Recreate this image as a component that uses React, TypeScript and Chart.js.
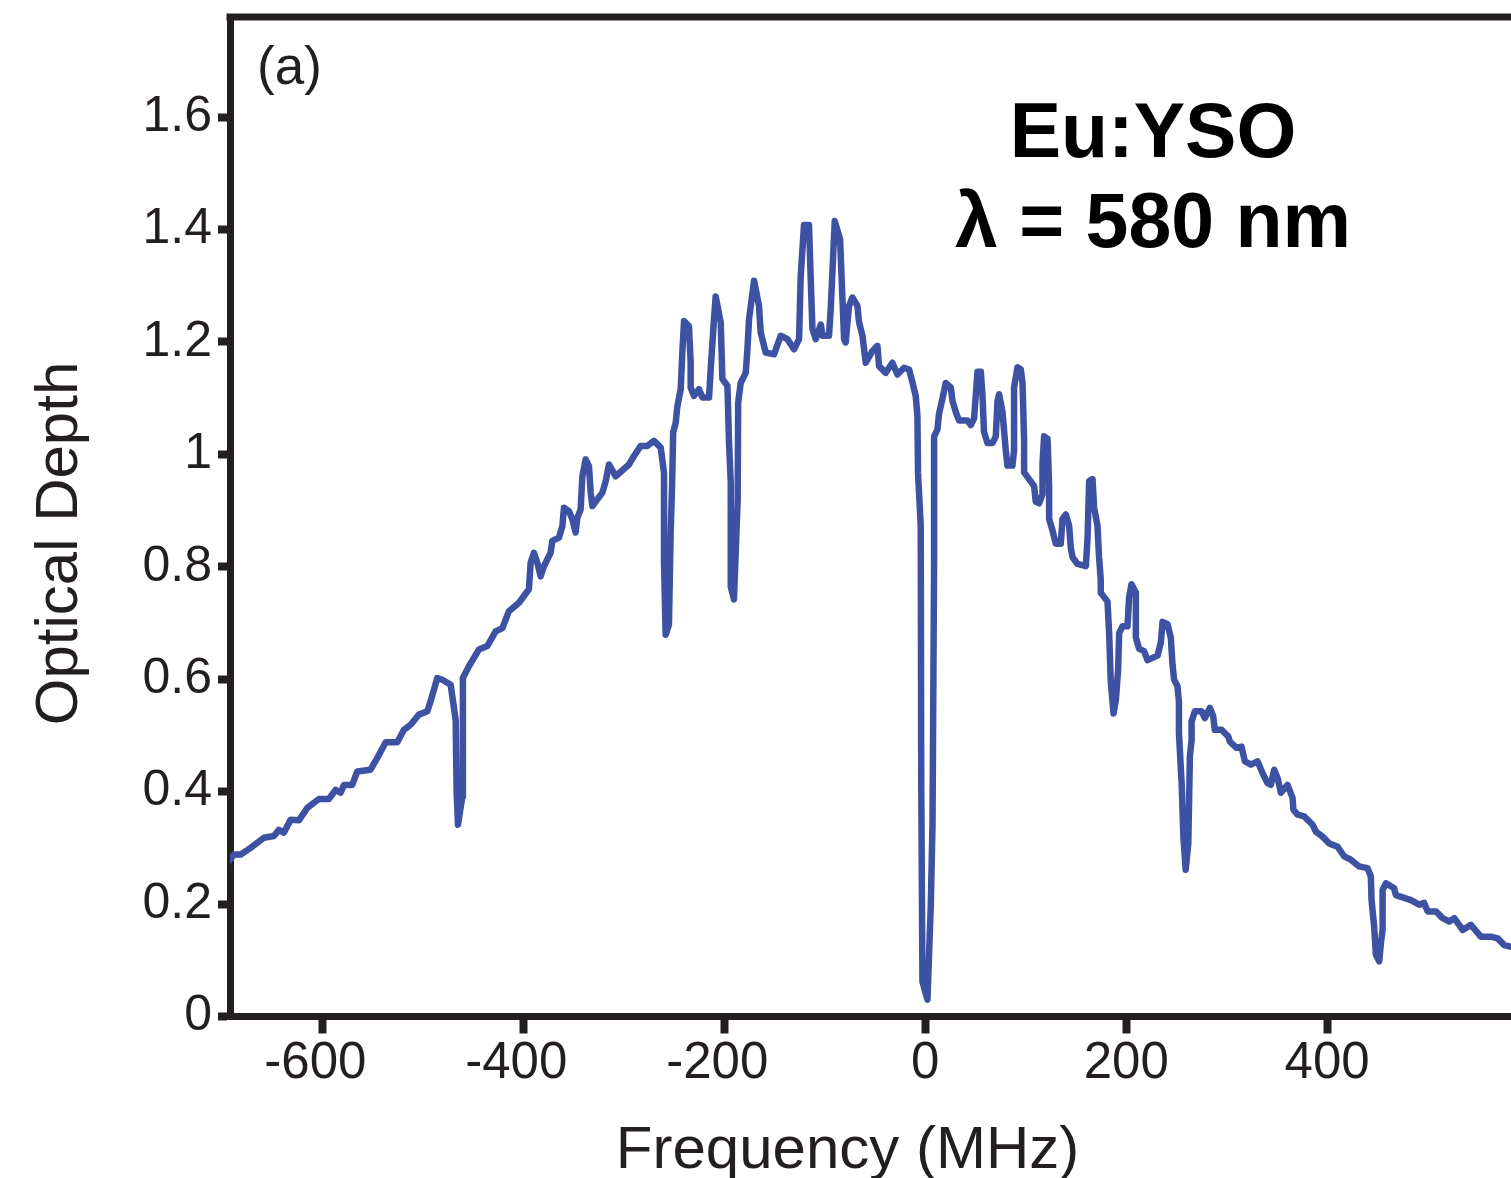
import React, { useEffect, useRef } from 'react';
import { Chart, registerables } from 'chart.js';

Chart.register(...registerables);

// ---- data ----
const freqMHz = [
  -695, -688.2, -681.5, -671.5, -658.3, -648.3, -643.4, -638.4, -631.7, -623.4,
  -615.1, -603.5, -593.6, -586.9, -581.9, -578.6, -570.3, -565.3, -552.1, -545.4,
  -537.1, -525.5, -518.9, -512.2, -504.0, -495.6, -492.3, -485.7, -480.7, -472.4,
  -467.4, -466.4, -465.1, -460.8, -460.2, -460.2, -454.2, -444.2, -435.9, -427.6,
  -420.9, -414.4, -404.4, -394.5, -392.8, -389.5, -386.1, -382.8, -379.5, -372.9,
  -371.2, -364.6, -361.2, -359.6, -354.6, -351.2, -348.0, -346.3, -343.0, -341.3,
  -338.0, -334.7, -333.0, -331.3, -326.4, -321.4, -318.1, -314.8, -308.1, -294.9,
  -289.9, -283.2, -276.6, -270.0, -263.3, -260.0, -260.0, -258.4, -255.1, -253.4,
  -251.9, -250.9, -248.4, -246.7, -243.4, -241.7, -240.1, -235.2, -233.5, -233.5,
  -230.2, -225.2, -221.8, -215.2, -213.6, -210.3, -208.6, -203.6, -201.9, -196.9,
  -195.3, -193.6, -193.6, -190.4, -186.7, -186.2, -183.7, -178.7, -177.0, -175.4,
  -170.4, -165.5, -163.8, -158.8, -150.5, -143.9, -137.2, -130.6, -125.6, -124.0,
  -120.7, -115.7, -114.0, -112.3, -109.0, -104.0, -102.3, -95.8, -94.1, -90.1,
  -84.8, -82.4, -80.8, -79.2, -75.9, -72.5, -67.5, -65.9, -62.5, -60.9,
  -59.2, -52.6, -47.6, -46.0, -39.3, -32.7, -27.7, -21.1, -16.1, -12.7,
  -9.5, -7.8, -7.2, -4.5, -4.0, -2.8, 2.2, 5.5, 7.2, 8.8,
  8.8, 12.1, 13.7, 17.1, 20.4, 25.4, 27.1, 30.4, 33.7, 42.0,
  45.3, 48.6, 52.0, 55.3, 56.9, 58.5, 61.9, 66.9, 70.2, 71.9,
  73.5, 76.9, 80.1, 81.8, 86.8, 88.4, 88.4, 91.8, 95.1, 96.8,
  98.4, 98.4, 103.3, 108.3, 110.0, 113.3, 116.7, 116.7, 118.3, 121.7,
  123.3, 123.3, 126.6, 129.9, 134.9, 136.6, 139.9, 143.2, 144.9, 146.6,
  151.5, 159.8, 161.5, 163.1, 166.5, 168.1, 171.4, 173.0, 174.7, 174.7,
  181.4, 183.0, 184.7, 187.4, 189.7, 192.0, 193.0, 196.3, 201.3, 202.9,
  205.3, 209.6, 209.6, 212.9, 217.8, 221.2, 226.2, 231.2, 234.5, 236.2,
  241.1, 244.4, 246.1, 247.7, 251.0, 252.5, 252.5, 255.2, 256.9, 259.2,
  261.8, 263.4, 265.1, 265.1, 268.4, 275.0, 278.3, 283.3, 286.6, 288.2,
  294.9, 301.6, 303.2, 309.8, 314.8, 318.1, 324.1, 330.7, 335.7, 340.7,
  344.0, 347.3, 350.7, 354.0, 360.6, 365.6, 366.4, 370.6, 377.1, 385.5,
  388.8, 395.4, 402.0, 410.4, 416.9, 423.6, 431.9, 440.2, 443.5, 444.2,
  446.8, 448.5, 451.8, 453.5, 455.2, 455.2, 458.5, 466.7, 468.4, 476.7,
  483.4, 491.6, 496.6, 500.0, 508.3, 514.9, 521.5, 526.5, 531.4, 534.8,
  543.1, 553.0, 563.0, 569.7, 576.3, 583.0, 590.0,
];

const opticalDepth = [
  0.272, 0.288, 0.288, 0.300, 0.318, 0.321, 0.332, 0.327, 0.350, 0.349,
  0.371, 0.387, 0.387, 0.403, 0.398, 0.412, 0.412, 0.436, 0.439, 0.460,
  0.488, 0.488, 0.510, 0.519, 0.537, 0.543, 0.561, 0.602, 0.599, 0.590,
  0.528, 0.398, 0.341, 0.391, 0.487, 0.602, 0.623, 0.653, 0.659, 0.685,
  0.691, 0.721, 0.736, 0.760, 0.807, 0.825, 0.807, 0.783, 0.801, 0.825,
  0.846, 0.852, 0.872, 0.905, 0.899, 0.884, 0.861, 0.887, 0.902, 0.961,
  0.991, 0.979, 0.932, 0.908, 0.920, 0.932, 0.952, 0.982, 0.961, 0.982,
  0.997, 1.015, 1.015, 1.024, 1.012, 0.967, 0.807, 0.679, 0.697, 0.861,
  0.950, 1.039, 1.056, 1.086, 1.116, 1.184, 1.237, 1.228, 1.163, 1.119,
  1.104, 1.116, 1.101, 1.101, 1.150, 1.240, 1.281, 1.235, 1.134, 1.122,
  1.021, 0.950, 0.765, 0.742, 0.920, 1.092, 1.127, 1.145, 1.187, 1.240,
  1.309, 1.264, 1.217, 1.181, 1.178, 1.211, 1.205, 1.187, 1.205, 1.315,
  1.408, 1.408, 1.312, 1.223, 1.205, 1.231, 1.211, 1.211, 1.258, 1.415,
  1.383, 1.276, 1.205, 1.199, 1.264, 1.279, 1.264, 1.235, 1.211, 1.187,
  1.163, 1.184, 1.193, 1.157, 1.145, 1.163, 1.142, 1.154, 1.151, 1.128,
  1.104, 1.068, 0.967, 0.873, 0.419, 0.062, 0.030, 0.197, 0.340, 0.809,
  1.032, 1.044, 1.072, 1.099, 1.127, 1.119, 1.095, 1.075, 1.060, 1.060,
  1.052, 1.064, 1.147, 1.147, 1.107, 1.040, 1.020, 1.020, 1.032, 1.095,
  1.107, 1.075, 1.008, 0.980, 0.980, 1.008, 1.119, 1.155, 1.151, 1.127,
  1.024, 0.968, 0.956, 0.944, 0.916, 0.913, 0.929, 0.984, 1.032, 1.028,
  0.944, 0.885, 0.865, 0.841, 0.841, 0.885, 0.893, 0.873, 0.833, 0.817,
  0.805, 0.801, 0.849, 0.952, 0.956, 0.905, 0.873, 0.817, 0.777, 0.754,
  0.738, 0.682, 0.594, 0.539, 0.563, 0.618, 0.682, 0.694, 0.694, 0.746,
  0.769, 0.754, 0.674, 0.654, 0.650, 0.634, 0.638, 0.642, 0.666, 0.702,
  0.698, 0.674, 0.626, 0.599, 0.588, 0.560, 0.504, 0.415, 0.320, 0.261,
  0.308, 0.463, 0.492, 0.525, 0.543, 0.543, 0.531, 0.549, 0.534, 0.510,
  0.510, 0.498, 0.489, 0.478, 0.480, 0.454, 0.448, 0.454, 0.433, 0.415,
  0.412, 0.439, 0.424, 0.398, 0.412, 0.389, 0.368, 0.359, 0.356, 0.341,
  0.329, 0.320, 0.308, 0.302, 0.285, 0.279, 0.267, 0.264, 0.249, 0.207,
  0.160, 0.110, 0.098, 0.130, 0.154, 0.225, 0.237, 0.228, 0.216, 0.211,
  0.207, 0.199, 0.202, 0.187, 0.187, 0.175, 0.169, 0.175, 0.163, 0.154,
  0.163, 0.142, 0.142, 0.139, 0.127, 0.124, 0.118,
];

const xTickValues = [-600, -400, -200, 0, 200, 400];
const xTickLabels = ['-600', '-400', '-200', '0', '200', '400'];
const yTickValues = [0, 0.2, 0.4, 0.6, 0.8, 1.0, 1.2, 1.4, 1.6];
const yTickLabels = ['0', '0.2', '0.4', '0.6', '0.8', '1', '1.2', '1.4', '1.6'];
const xLimits = [-692, 583];
const yLimits = [0, 1.778];

const xAxisTitle = 'Frequency (MHz)';
const yAxisTitle = 'Optical Depth';
const panelLabel = '(a)';
const annotationLines = ['Eu:YSO', 'λ = 580 nm'];

// ---- styles ----
const W = 1511;
const H = 1178;
const FONT = '"Liberation Sans", Arial, Helvetica, sans-serif';
const AXIS_COLOR = '#231f20';
const LINE_COLOR = '#3e52a3';

const decorPlugin = {
  id: 'decor',
  afterDraw(chart: any) {
    const { ctx, chartArea: a } = chart;
    ctx.save();
    // top frame line
    ctx.strokeStyle = AXIS_COLOR;
    ctx.lineWidth = 7;
    ctx.beginPath();
    ctx.moveTo(a.left - 3.5, a.top);
    ctx.lineTo(a.right, a.top);
    ctx.stroke();

    ctx.fillStyle = AXIS_COLOR;
    ctx.textBaseline = 'alphabetic';

    // x axis title
    ctx.font = `60px ${FONT}`;
    ctx.textAlign = 'center';
    ctx.fillText(xAxisTitle, 847.5, 1168);

    // y axis title
    ctx.save();
    ctx.translate(77, 543.5);
    ctx.rotate(-Math.PI / 2);
    ctx.fillText(yAxisTitle, 0, 0);
    ctx.restore();

    // panel label
    ctx.font = `53px ${FONT}`;
    ctx.textAlign = 'left';
    ctx.fillText(panelLabel, 257, 84);

    // annotation
    ctx.fillStyle = '#000000';
    ctx.font = `bold 77px ${FONT}`;
    ctx.textAlign = 'center';
    ctx.fillText(annotationLines[0], 1153, 157);
    ctx.fillText(annotationLines[1], 1153, 247);
    ctx.restore();
  },
};

export default function App() {
  const canvasRef = useRef<HTMLCanvasElement | null>(null);

  useEffect(() => {
    const canvas = canvasRef.current;
    if (!canvas) return;
    const points = freqMHz.map((f, i) => ({ x: f, y: opticalDepth[i] }));

    const chart = new Chart(canvas, {
      type: 'line',
      data: {
        datasets: [
          {
            data: points,
            borderColor: LINE_COLOR,
            borderWidth: 6.5,
            pointRadius: 0,
            tension: 0,
            borderJoinStyle: 'round',
            borderCapStyle: 'round',
            fill: false,
          },
        ],
      },
      options: {
        animation: false,
        responsive: false,
        devicePixelRatio: 1,
        events: [],
        layout: { padding: { top: 17, right: 0, left: 0, bottom: 0 } },
        plugins: {
          legend: { display: false },
          tooltip: { enabled: false },
          title: { display: false },
        },
        scales: {
          x: {
            type: 'linear',
            position: 'bottom',
            min: xLimits[0],
            max: xLimits[1],
            afterBuildTicks: (scale: any) => {
              scale.ticks = xTickValues.map((v) => ({ value: v }));
            },
            afterFit: (scale: any) => {
              scale.height = 161.5;
              scale.paddingLeft = 0;
              scale.paddingRight = 0;
              scale.paddingTop = 0;
              scale.paddingBottom = 0;
            },
            ticks: {
              autoSkip: false,
              maxRotation: 0,
              minRotation: 0,
              padding: 0,
              color: AXIS_COLOR,
              font: { family: FONT, size: 51 },
              callback: (_v: any, i: number) => {
                const s = xTickLabels[i];
                return s.startsWith('-') ? s + ' ' : s;
              },
            },
            grid: {
              display: true,
              drawOnChartArea: false,
              drawTicks: true,
              tickLength: 17,
              tickWidth: 8,
              tickColor: AXIS_COLOR,
            },
            border: { display: true, color: AXIS_COLOR, width: 7 },
          },
          y: {
            type: 'linear',
            position: 'left',
            min: yLimits[0],
            max: yLimits[1],
            afterBuildTicks: (scale: any) => {
              scale.ticks = yTickValues.map((v) => ({ value: v }));
            },
            afterFit: (scale: any) => {
              scale.width = 230;
              scale.paddingTop = 0;
              scale.paddingBottom = 0;
              scale.paddingLeft = 0;
              scale.paddingRight = 0;
            },
            ticks: {
              padding: 6,
              color: AXIS_COLOR,
              font: { family: FONT, size: 50 },
              callback: (_v: any, i: number) => yTickLabels[i],
            },
            grid: {
              display: true,
              drawOnChartArea: false,
              drawTicks: true,
              tickLength: 12,
              tickWidth: 8,
              tickColor: AXIS_COLOR,
            },
            border: { display: true, color: AXIS_COLOR, width: 7 },
          },
        },
      },
      plugins: [decorPlugin],
    } as any);

    return () => chart.destroy();
  }, []);

  return (
    <div style={{ position: 'absolute', left: 0, top: 0, width: W, height: H, background: '#ffffff' }}>
      <canvas ref={canvasRef} width={W} height={H} style={{ display: 'block', width: W, height: H }} />
    </div>
  );
}
